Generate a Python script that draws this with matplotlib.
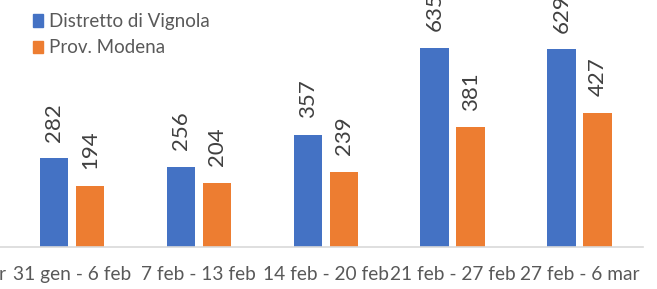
import matplotlib
matplotlib.use("Agg")
import matplotlib.pyplot as plt
import numpy as np
from matplotlib.patches import Patch
from matplotlib.transforms import offset_copy

categories = ["31 gen - 6 feb", "7 feb - 13 feb", "14 feb - 20 feb", "21 feb - 27 feb", "27 feb - 6 mar"]
series_names = ["Distretto di Vignola", "Prov. Modena"]
vignola = [282, 256, 357, 635, 629]
modena = [194, 204, 239, 381, 427]
colors = ["#4472C4", "#ED7D31"]

plt.rcParams['font.family'] = ['Lato', 'DejaVu Sans']
W, H = 657, 289
fig = plt.figure(figsize=(W/100, H/100), dpi=100)
base_px = 247
ax = fig.add_axes([0, (H-base_px)/H, 643/W, base_px/H])

x = np.arange(len(categories))
bw = 0.224
off = 0.142
b1 = ax.bar(x - off, vignola, bw, color=colors[0], label=series_names[0])
b2 = ax.bar(x + off, modena, bw, color=colors[1], label=series_names[1])
for bars in (b1, b2):
    ax.bar_label(bars, padding=12, rotation=90, fontsize=16, color="#404040")

ax.set_xlim(-0.567, 4.5)
ax.set_ylim(0, base_px/0.314)
for s in ["top", "right", "left"]:
    ax.spines[s].set_visible(False)
ax.spines["bottom"].set_color("#D9D9D9")
ax.spines["bottom"].set_linewidth(1.2)
ax.set_yticks([])
ax.set_xticks(x)
tick_fs = 13.8
ax.set_xticklabels(categories, fontsize=tick_fs, color="#595959")
ax.tick_params(axis="x", length=0, pad=14)
# partially visible label of a previous category at left edge
ax.text(-0.525, 0, "r", transform=offset_copy(ax.get_xaxis_transform(), fig=fig, y=-14, units="points"),
        ha="right", va="top", fontsize=tick_fs, color="#595959", clip_on=False)

handles = [Patch(color=c) for c in colors]
leg = fig.legend(handles, series_names, loc="upper left", bbox_to_anchor=(33/W, 1 - 13/H),
                 frameon=False, fontsize=13.5, handlelength=0.55, handleheight=0.65,
                 handletextpad=0.3, labelspacing=0.5, borderaxespad=0, borderpad=0)
for t in leg.get_texts():
    t.set_color("#595959")

fig.savefig("out.png", dpi=100)
